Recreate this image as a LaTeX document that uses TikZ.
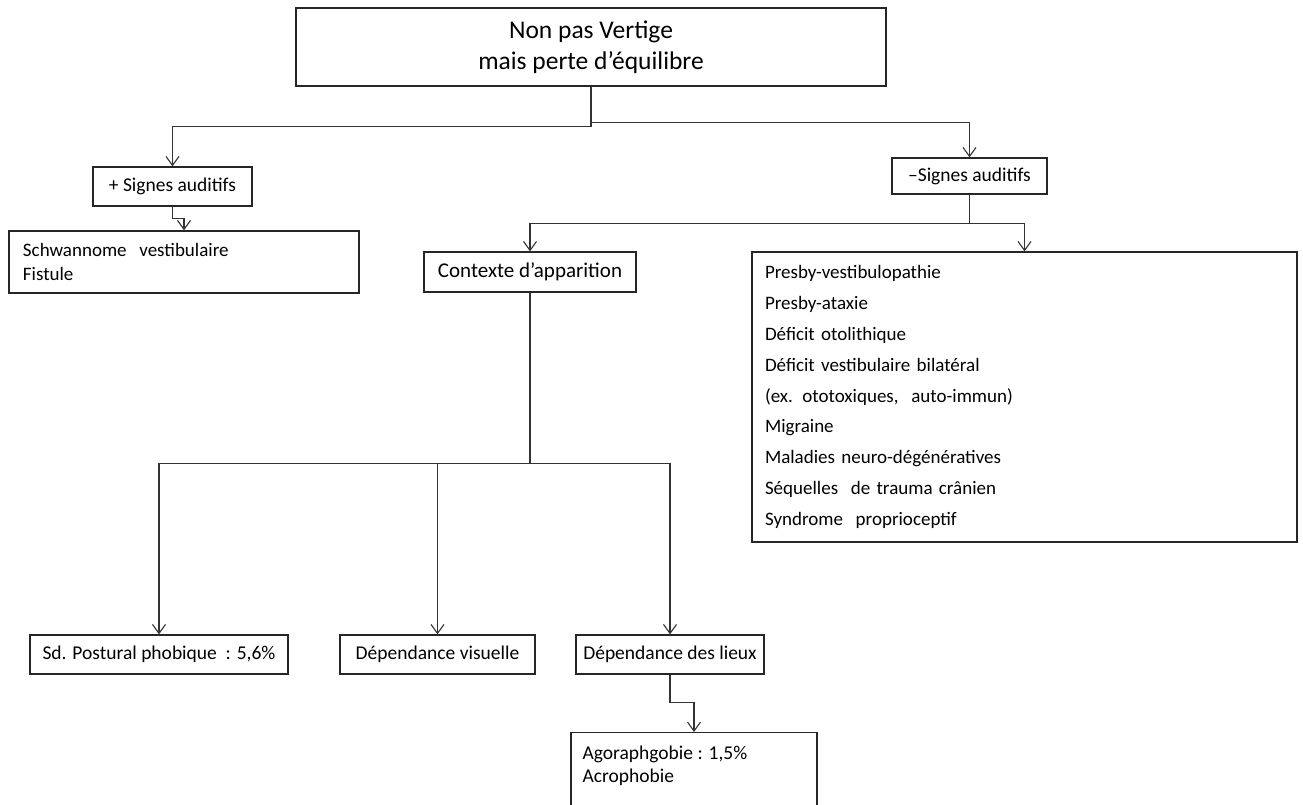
\documentclass[tikz,border=0pt]{standalone}
\usepackage{fontspec}
\setmainfont{Carlito}
\usetikzlibrary{arrows.meta}
\begin{document}
\begin{tikzpicture}[x=1pt,y=-1pt,
  box/.style={draw=black!85, line width=1.3pt, rectangle, inner sep=0pt, font=\fontsize{19.5}{23}\selectfont},
  conn/.style={draw=black!80, line width=1.4pt},
  arr/.style={conn, -{Straight Barb[length=9pt,width=13pt,line width=1.1pt]}},
  txt/.style={inner sep=0pt, align=left, anchor=north west, font=\fontsize{19.5}{23}\selectfont},
]
\useasboundingbox[fill=white] (0,0) rectangle (1303,805);
\node[box, minimum width=590pt, minimum height=78pt, align=center, font=\fontsize{25.5}{31}\selectfont] (top) at (591,47) {Non pas Vertige\\mais perte d’équilibre};
\node[box, minimum width=159pt, minimum height=39pt] (plus) at (172.5,186.5) {+ Signes auditifs};
\node[box, minimum width=155pt, minimum height=36pt] (minus) at (969.5,176) {–Signes auditifs};
\node[box, minimum height=62pt, inner xsep=14pt, text width=322pt, align=left, font=\fontsize{19}{24}\selectfont] (schw) at (184,262) {Schwannome\ \ vestibulaire\\Fistule};
\node[box, minimum width=212pt, minimum height=40pt, font=\fontsize{21}{24}\selectfont] (ctx) at (530,272) {Contexte d’apparition};
\node[box, minimum height=290pt, inner xsep=13pt, text width=519pt, align=left, font=\fontsize{19}{30.8}\selectfont] (big) at (1024.5,397) {Presby-vestibulopathie\\Presby-ataxie\\Déficit otolithique\\Déficit vestibulaire bilatéral\\(ex. ototoxiques,\ \ auto-immun)\\Migraine\\Maladies neuro-dégénératives\\Séquelles\ \ de trauma crânien\\Syndrome\ \ proprioceptif};
\node[box, minimum width=258pt, minimum height=39pt] (sd) at (159,654.5) {Sd. Postural phobique\ \ : 5,6\%};
\node[box, minimum width=195pt, minimum height=39pt] (dv) at (437.5,654.5) {Dépendance visuelle};
\node[box, minimum width=188pt, minimum height=39pt] (dl) at (670,654.5) {Dépendance des lieux};
\node[box, anchor=north, minimum width=246pt, minimum height=100pt] (agora) at (694,732) {};
\node[txt] (agoratxt) at ([xshift=12pt,yshift=-14pt]agora.north west) {Agoraphgobie : 1,5\%\\Acrophobie};

\draw[arr] (top.south) -- ++(0,40) -| (plus.north);
\draw[arr] (top.south) -- ++(0,36) -| (minus.north);
\draw[arr] (plus.south) -- ++(0,12) -| (schw.north);
\draw[arr] (minus.south) -- ++(0,29) -| (ctx.north);
\draw[arr] (minus.south) -- ++(0,29) -| (big.north);
\draw[arr] (ctx.south) -- ++(0,171) -| (sd.north);
\draw[arr] (ctx.south) -- ++(0,171) -| (dv.north);
\draw[arr] (ctx.south) -- ++(0,171) -| (dl.north);
\draw[arr] (dl.south) -- ++(0,28) -| (agora.north);
\end{tikzpicture}
\end{document}
